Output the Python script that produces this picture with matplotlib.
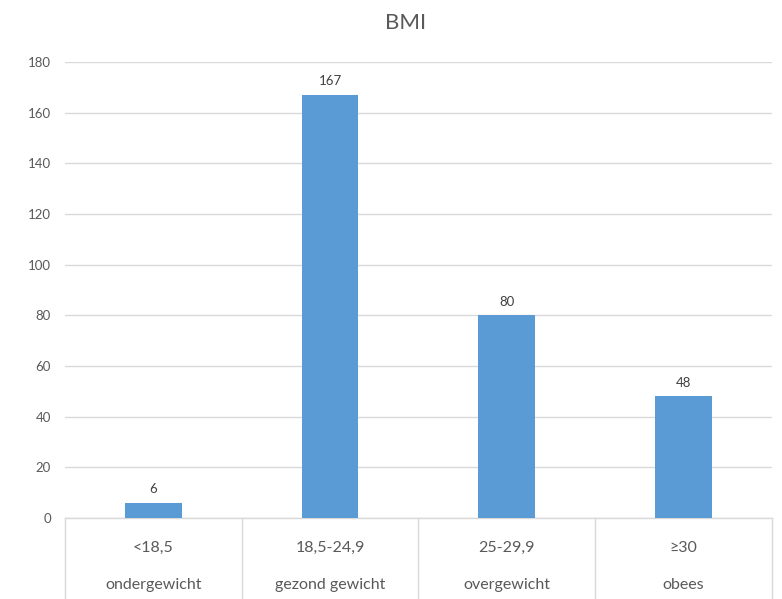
import matplotlib.pyplot as plt
import matplotlib.transforms as mtransforms

# BMI categories and counts
ranges = ['<18,5', '18,5-24,9', '25-29,9', '≥30']
groups = ['ondergewicht', 'gezond gewicht', 'overgewicht', 'obees']
counts = [6, 167, 80, 48]
y_ticks = [0, 20, 40, 60, 80, 100, 120, 140, 160, 180]

plt.rcParams['font.family'] = ['Lato', 'DejaVu Sans']
text_grey = '#595959'
line_grey = '#d9d9d9'

fig = plt.figure(figsize=(7.82, 5.99), dpi=100)
ax = fig.add_axes([0.0831, 0.1352, 0.9039, 0.7613])

x = list(range(len(counts)))
bars = ax.bar(x, counts, width=0.32, color='#5b9bd5', zorder=3)

# data labels
for xi, v in zip(x, counts):
    ax.text(xi, v + 3, str(v), ha='center', va='bottom', fontsize=9.5, color='#404040')

ax.set_xlim(-0.5, len(counts) - 0.5)
ax.set_ylim(0, 180)
ax.set_yticks(y_ticks)
ax.tick_params(axis='y', length=0, labelsize=9.5, labelcolor=text_grey, pad=10)
ax.set_xticks([])
ax.grid(axis='y', color=line_grey, linewidth=1, zorder=0)

for side in ['top', 'right', 'left']:
    ax.spines[side].set_visible(False)
ax.spines['bottom'].set_color(line_grey)
ax.spines['bottom'].set_linewidth(1)

# multi-level category axis
trans = mtransforms.blended_transform_factory(ax.transData, ax.transAxes)
for b in [i - 0.5 for i in range(len(counts) + 1)]:
    ax.plot([b, b], [0, -0.2], transform=trans, color=line_grey, linewidth=1, clip_on=False)
for xi, r, g in zip(x, ranges, groups):
    ax.text(xi, -0.066, r, transform=trans, ha='center', va='center', fontsize=11.5, color=text_grey)
    ax.text(xi, -0.147, g, transform=trans, ha='center', va='center', fontsize=11.5, color=text_grey)

fig.text(0.518, 0.962, 'BMI', ha='center', va='center', fontsize=16, color=text_grey)

fig.savefig('out.png', dpi=100)
